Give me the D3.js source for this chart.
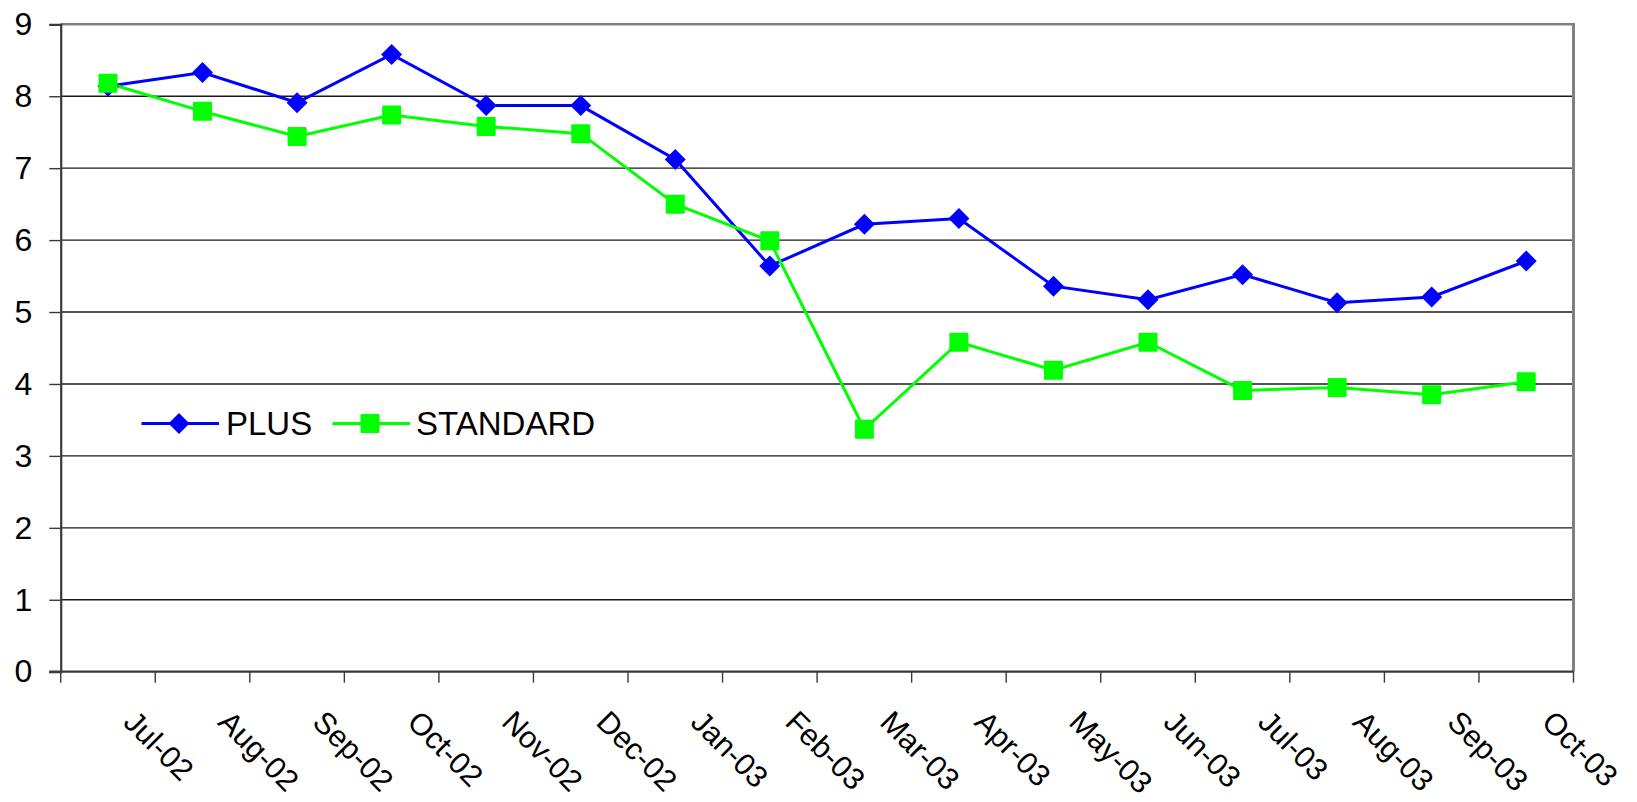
<!DOCTYPE html>
<html>
<head>
<meta charset="utf-8">
<script src="https://cdn.jsdelivr.net/npm/d3@7"></script>
<style>
  html, body { margin: 0; padding: 0; background: #fff; }
  svg { display: block; font-family: "Liberation Sans", Arial, sans-serif; }
</style>
</head>
<body>
<svg id="chart" width="1637" height="802"></svg>
<script>
// Monthly categories on the x axis
const months = ["Jul-02", "Aug-02", "Sep-02", "Oct-02", "Nov-02", "Dec-02",
                "Jan-03", "Feb-03", "Mar-03", "Apr-03", "May-03", "Jun-03",
                "Jul-03", "Aug-03", "Sep-03", "Oct-03"];

// Series values per month
const plusValues = [8.14, 8.33, 7.91, 8.58, 7.87, 7.87, 7.12, 5.64,
                    6.22, 6.30, 5.36, 5.17, 5.52, 5.13, 5.21, 5.71];
const standardValues = [8.18, 7.79, 7.44, 7.74, 7.58, 7.48, 6.50, 5.99,
                        3.37, 4.58, 4.19, 4.58, 3.91, 3.95, 3.85, 4.03];

// Y axis ticks
const yTicks = [0, 1, 2, 3, 4, 5, 6, 7, 8, 9];

const seriesNames = ["PLUS", "STANDARD"];

const svg = d3.select("#chart");
const plotLeft = 60.7, plotRight = 1573.5, plotTop = 24.3, plotBottom = 671.7;

const x = d3.scaleBand().domain(months).range([plotLeft, plotRight]).padding(0);
const y = d3.scaleLinear().domain([0, 9]).range([plotBottom, plotTop]);
const cx = d => x(d) + x.bandwidth() / 2;

// Horizontal gridlines
svg.append("g")
  .selectAll("line")
  .data(yTicks.filter(v => v > 0 && v < 9))
  .join("line")
  .attr("x1", plotLeft).attr("x2", plotRight)
  .attr("y1", d => y(d)).attr("y2", d => y(d))
  .attr("stroke", "#1a1a1a").attr("stroke-width", 1.4);

// Plot area border (top and right)
svg.append("line")
  .attr("x1", plotLeft).attr("x2", plotRight + 1.5)
  .attr("y1", y(9)).attr("y2", y(9))
  .attr("stroke", "#808080").attr("stroke-width", 2.5);
svg.append("line")
  .attr("x1", plotRight).attr("x2", plotRight)
  .attr("y1", y(9)).attr("y2", y(0))
  .attr("stroke", "#808080").attr("stroke-width", 3);

// Y axis with ticks pointing left
const yAxis = svg.append("g")
  .attr("transform", `translate(${plotLeft},0)`)
  .call(d3.axisLeft(y).tickValues(yTicks).tickSize(11.4).tickPadding(17).tickFormat(d3.format("d")));
yAxis.select(".domain").attr("stroke", "#3a3a3a").attr("stroke-width", 2.2);
yAxis.selectAll(".tick line").attr("stroke", "#3a3a3a").attr("stroke-width", 1.4);
yAxis.selectAll(".tick text")
  .attr("font-size", 32).attr("fill", "#000")
  .attr("font-family", "Liberation Sans, Arial, sans-serif");

// X axis baseline and boundary tick marks
const xAxis = svg.append("g");
xAxis.append("line")
  .attr("x1", plotLeft - 11.4).attr("x2", plotRight)
  .attr("y1", plotBottom).attr("y2", plotBottom)
  .attr("stroke", "#3a3a3a").attr("stroke-width", 2.2);
const boundaries = months.map(m => x(m)).concat([x(months[months.length - 1]) + x.bandwidth()]);
xAxis.selectAll("line.tick")
  .data(boundaries)
  .join("line")
  .attr("class", "tick")
  .attr("x1", d => d).attr("x2", d => d)
  .attr("y1", plotBottom).attr("y2", plotBottom + 11)
  .attr("stroke", "#3a3a3a").attr("stroke-width", 1.4);

// Rotated month labels
xAxis.selectAll("text")
  .data(months)
  .join("text")
  .attr("transform", d => `translate(${cx(d) + 14},${plotBottom + 52}) rotate(45)`)
  .attr("text-anchor", "start")
  .attr("font-size", 30.5)
  .attr("fill", "#000")
  .text(d => d);

// Lines and markers
const line = d3.line().x((d, i) => cx(months[i])).y(d => y(d));

svg.append("path")
  .datum(plusValues)
  .attr("d", line)
  .attr("fill", "none").attr("stroke", "#0000ff").attr("stroke-width", 3);
svg.append("path")
  .datum(standardValues)
  .attr("d", line)
  .attr("fill", "none").attr("stroke", "#00ff00").attr("stroke-width", 3);

const diamond = s => `M0,${-s} L${s},0 L0,${s} L${-s},0 Z`;

svg.append("g")
  .selectAll("path")
  .data(plusValues)
  .join("path")
  .attr("d", diamond(10.5))
  .attr("transform", (d, i) => `translate(${cx(months[i])},${y(d)})`)
  .attr("fill", "#0000ff");

svg.append("g")
  .selectAll("rect")
  .data(standardValues)
  .join("rect")
  .attr("x", (d, i) => cx(months[i]) - 9.5)
  .attr("y", d => y(d) - 9.5)
  .attr("width", 19).attr("height", 19)
  .attr("rx", 1.2)
  .attr("fill", "#00ff00");

// Legend
const legend = svg.append("g").attr("transform", "translate(0,423.5)");
legend.append("line").attr("x1", 141.5).attr("x2", 219).attr("y1", 0).attr("y2", 0)
  .attr("stroke", "#0000ff").attr("stroke-width", 3);
legend.append("path").attr("d", diamond(10.5)).attr("transform", "translate(179,0)").attr("fill", "#0000ff");
legend.append("text").attr("x", 226).attr("y", 0).attr("dy", "0.36em")
  .attr("font-size", 33).attr("fill", "#000").text(seriesNames[0]);

legend.append("line").attr("x1", 332.5).attr("x2", 410).attr("y1", 0).attr("y2", 0)
  .attr("stroke", "#00ff00").attr("stroke-width", 3);
legend.append("rect").attr("x", 360.5).attr("y", -9.5).attr("width", 19).attr("height", 19)
  .attr("rx", 1.2).attr("fill", "#00ff00");
legend.append("text").attr("x", 416).attr("y", 0).attr("dy", "0.36em")
  .attr("font-size", 33).attr("fill", "#000").text(seriesNames[1]);
</script>
</body>
</html>
